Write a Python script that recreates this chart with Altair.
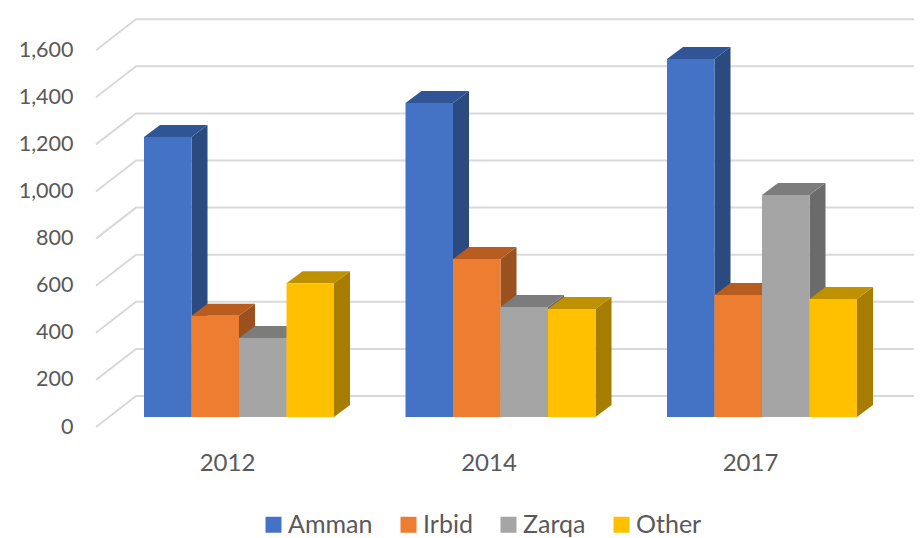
import altair as alt
import pandas as pd

years = ["2012", "2014", "2017"]
series = ["Amman", "Irbid", "Zarqa", "Other"]
amman = [1189, 1333, 1520]
irbid = [430, 671, 518]
zarqa = [335, 467, 943]
other = [568, 459, 501]
values = {"Amman": amman, "Irbid": irbid, "Zarqa": zarqa, "Other": other}
front_colors = ["#4472C4", "#ED7D31", "#A5A5A5", "#FFC000"]
top_colors = ["#2F5597", "#B85C20", "#7C7C7C", "#BF9000"]
side_colors = ["#2B4A80", "#9A5120", "#6B6B6B", "#A67D00"]
grid_values = [0, 200, 400, 600, 800, 1000, 1200, 1400, 1600]

# layout, in pixels of the reference
PX_PER_VALUE = 0.2355
GROUP_STEP = 261.5
LEFT, RIGHT, TOP, FLOOR, BASE = 96, 914, 8, 427, 417
FIRST_LABEL = 227
u = 1 / GROUP_STEP
v = 1 / PX_PER_VALUE
BAR_W = 47.5 * u
BAR_SHIFT = 12 * u
DX, DV = 16 * u, 12 * v

x_scale = alt.Scale(domain=[(LEFT - FIRST_LABEL) * u, (RIGHT - FIRST_LABEL) * u], nice=False, zero=False)
y_scale = alt.Scale(domain=[(BASE - FLOOR) * v, (BASE - TOP) * v], nice=False, zero=False)

fronts, sides, tops = [], [], []
for s, name in enumerate(series):
    for g, val in enumerate(values[name]):
        L = g + BAR_SHIFT + (s - 2) * BAR_W
        R = L + BAR_W
        key = f"{name}{g}"
        fronts.append(dict(series=name, x=L, x2=R, y=0, y2=val))
        sides += [
            dict(series=name, bar=key, x=R, y=0, y2=val),
            dict(series=name, bar=key, x=R + DX, y=DV, y2=val + DV),
        ]
        tops += [
            dict(series=name, bar=key, x=L, y=val, y2=val),
            dict(series=name, bar=key, x=L + DX, y=val + DV, y2=val),
            dict(series=name, bar=key, x=R, y=val + DV, y2=val),
            dict(series=name, bar=key, x=R + DX, y=val + DV, y2=val + DV),
        ]
fronts, sides, tops = map(pd.DataFrame, (fronts, sides, tops))

grid_rows = []
for val in grid_values:
    grid_rows += [
        dict(line=val, x=(LEFT - FIRST_LABEL) * u, y=val + (BASE - FLOOR) * v),
        dict(line=val, x=(136 - FIRST_LABEL) * u, y=val + 21 * v),
        dict(line=val, x=(RIGHT - FIRST_LABEL) * u, y=val + 21 * v),
    ]
grid = pd.DataFrame(grid_rows)

FONT = "Lato"
SIZE = 24
TEXT = "#595959"

x_axis = alt.Axis(
    values=[0, 1, 2], labelExpr="['2012','2014','2017'][datum.value]",
    domain=False, ticks=False, grid=False, labelPadding=24, labelFlush=False,
    labelFont=FONT, labelFontSize=SIZE, labelColor=TEXT)
y_axis = alt.Axis(
    values=grid_values, labelExpr="format(datum.value, ',')", domain=False, ticks=False, grid=False,
    labelPadding=23, labelOffset=10, labelFont=FONT, labelFontSize=21.5, labelColor=TEXT)

X = alt.X("x:Q", scale=x_scale, axis=x_axis, title=None)
Y = alt.Y("y:Q", scale=y_scale, axis=y_axis, title=None, stack=None)

layers = [alt.Chart(grid).mark_line(color="#D9D9D9", strokeWidth=2).encode(x=X, y=Y, detail="line:N")]
for s, name in enumerate(series):
    layers.append(alt.Chart(sides[sides.series == name]).mark_area(color=side_colors[s]).encode(
        x=X, y=Y, y2="y2:Q", detail="bar:N"))
    layers.append(alt.Chart(tops[tops.series == name]).mark_area(color=top_colors[s]).encode(
        x=X, y=Y, y2="y2:Q", detail="bar:N"))
    layers.append(alt.Chart(fronts[fronts.series == name]).mark_rect().encode(
        x=X, x2="x2:Q", y=Y, y2="y2:Q",
        color=alt.Color("series:N", scale=alt.Scale(domain=series, range=front_colors),
                        legend=alt.Legend(
                            title=None, orient="none", legendX=165, legendY=504,
                            direction="horizontal", columns=4, columnPadding=23,
                            symbolType="square", symbolSize=256, symbolStrokeWidth=0,
                            labelOffset=2, labelFont=FONT, labelFontSize=25,
                            labelColor=TEXT))))

chart = alt.layer(*layers).properties(
    width=RIGHT - LEFT,
    height=FLOOR - TOP,
    padding={"left": LEFT - 8, "right": 0, "top": 0, "bottom": 111},
    autosize=alt.AutoSizeParams(type="none"),
).configure_view(stroke=None)

chart.save("out.html", embed_options={"renderer": "svg", "actions": False})
